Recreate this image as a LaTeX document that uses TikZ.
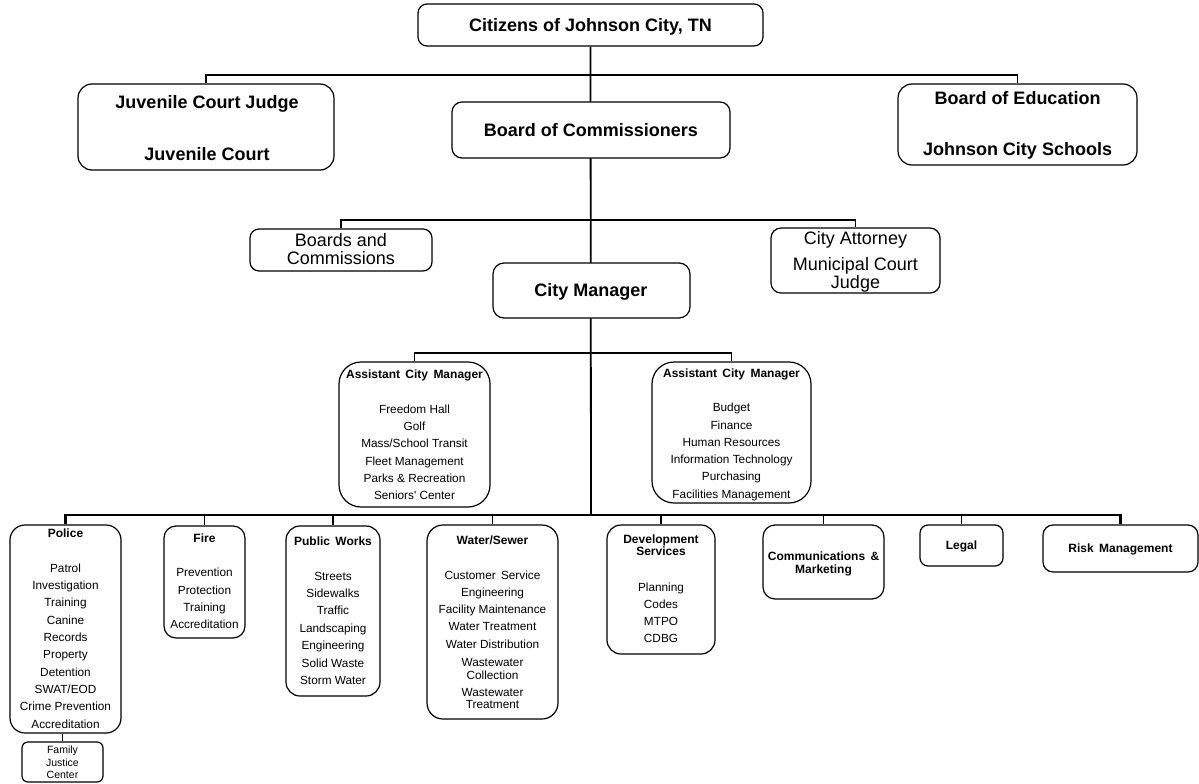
\documentclass[tikz,border=0pt]{standalone}
\usepackage{fontspec}
\setmainfont{Liberation Sans}
\usetikzlibrary{backgrounds}
\tikzset{
  box/.style={draw, line width=1.2pt, fill=white, rounded corners=#1, inner sep=0pt},
  box/.default=12pt,
  conn/.style={line width=1.8pt},
  bus/.style={line width=2.4pt},
  bigb/.style={font=\fontsize{18}{18}\selectfont\bfseries, inner sep=0pt, anchor=base, yshift=-6.2pt},
  bigr/.style={font=\fontsize{18}{18}\selectfont, inner sep=0pt, anchor=base, yshift=-5.8pt},
  ttl/.style={font=\fontsize{12}{12}\selectfont\bfseries, inner sep=0pt, anchor=base, yshift=-4.2pt},
  itm/.style={font=\fontsize{11.8}{11.8}\selectfont, inner sep=0pt, anchor=base, yshift=-4pt},
  tinyt/.style={font=\fontsize{10.5}{10.5}\selectfont, inner sep=0pt, anchor=base, yshift=-3.6pt},
}
\newcommand\mylist[5]{%
  \foreach \t [count=\i] in {#5} {\node[itm] (#1-\i) at (#2, {#3+(\i-1)*#4}) {\t};}}
\begin{document}
\begin{tikzpicture}[x=1pt,y=-1pt]
\useasboundingbox (0,0) rectangle (1199,784);
% ---------- boxes ----------
\node[box=9pt,  minimum width=345pt, minimum height=42pt]  (cit)   at (590.5,25) {};
\node[box=14pt, minimum width=256pt, minimum height=86pt]  (juv)   at (206,127) {};
\node[box=10pt, minimum width=278pt, minimum height=56pt]  (boc)   at (591,130) {};
\node[box=14pt, minimum width=239pt, minimum height=81pt]  (boe)   at (1017.5,124.5) {};
\node[box=9pt,  minimum width=182pt, minimum height=42pt]  (bac)   at (341,250) {};
\node[box=10pt, minimum width=169pt, minimum height=65pt]  (att)   at (855.5,260.5) {};
\node[box=11pt, minimum width=197pt, minimum height=55pt]  (cm)    at (591.5,290.5) {};
\node[box=22pt, minimum width=151pt, minimum height=145pt] (acm1)  at (414.5,434.5) {};
\node[box=22pt, minimum width=159pt, minimum height=141pt] (acm2)  at (731.5,432.5) {};
\node[box=15pt, minimum width=111pt, minimum height=208pt] (pol)   at (65.5,629) {};
\node[box=6pt,  minimum width=81pt,  minimum height=40pt]  (fjc)   at (62.5,762) {};
\node[box=12pt, minimum width=81pt,  minimum height=112pt] (fire)  at (204.5,582) {};
\node[box=14pt, minimum width=94pt,  minimum height=170pt] (pw)    at (333,611) {};
\node[box=16pt, minimum width=131pt, minimum height=194pt] (ws)    at (492.5,622) {};
\node[box=14pt, minimum width=108pt, minimum height=129pt] (dev)   at (661,589.5) {};
\node[box=12pt, minimum width=121pt, minimum height=74pt]  (com)   at (823.5,562) {};
\node[box=8pt,  minimum width=83pt,  minimum height=41pt]  (legal) at (961.5,545.5) {};
\node[box=10pt, minimum width=155pt, minimum height=47pt]  (risk)  at (1120.5,548.5) {};
% ---------- branch points ----------
\coordinate (b1) at (591,75);
\coordinate (b2) at (591,220);
\coordinate (b3) at (591,353);
\coordinate (b4) at (591,515);
% ---------- connectors ----------
\begin{scope}[on background layer]
  \draw[conn] (cit.south) -- (b4);
  \draw[conn] (juv.north) |- (b1) -| (boe.north);
  \draw[conn] (bac.north) |- (b2) -| (att.north);
  \draw[conn] (acm1.north) |- (b3) -| (acm2.north);
  \draw[bus] (pol.north) |- (b4) -| (risk.north);
  \foreach \n in {fire,pw,ws,dev,com,legal}
    \draw[conn] (\n.north) -- (\n.north |- b4);
  \draw[line width=0.8pt] (fjc.north) -- (fjc.north |- pol.south);
\end{scope}
% ---------- texts ----------
\node[bigb] (cit-t)  at (590.5,25) {Citizens of Johnson City, TN};
\node[bigb] (juv-t1) at (207,102.5) {Juvenile Court Judge};
\node[bigb] (juv-t2) at (207,154.5) {Juvenile Court};
\node[bigb] (boc-t)  at (591,130) {Board of Commissioners};
\node[bigb] (boe-t1) at (1017.5,98.5) {Board of Education};
\node[bigb] (boe-t2) at (1017.5,149.5) {Johnson City Schools};
\node[bigr] (bac-t1) at (341,240.5) {Boards and};
\node[bigr] (bac-t2) at (341,258.5) {Commissions};
\node[bigr] (att-t1) at (855.5,238.5) {City Attorney};
\node[bigr] (att-t2) at (855.5,265) {Municipal Court};
\node[bigr] (att-t3) at (855.5,283) {Judge};
\node[bigb] (cm-t)   at (591,290) {City Manager};
% assistant city managers
\node[ttl] (acm1-t) at (414.5,374) {Assistant\ \,City\ \,Manager};
\mylist{acm1}{414.5}{409.3}{17.3}{Freedom Hall,Golf,Mass/School Transit,Fleet Management,Parks \& Recreation,Seniors\textquotesingle{} Center}
\node[ttl] (acm2-t) at (731.5,373.3) {Assistant\ \,City\ \,Manager};
\mylist{acm2}{731.5}{407.7}{17.3}{Budget,Finance,Human Resources,Information Technology,Purchasing,Facilities Management}
% police
\node[ttl] (pol-t) at (65.5,533) {Police};
\mylist{pol}{65.5}{568}{17.36}{Patrol,Investigation,Training,Canine,Records,Property,Detention,SWAT/EOD,Crime Prevention,Accreditation}
\node[tinyt] (fjc-1) at (62.5,750) {Family};
\node[tinyt] (fjc-2) at (62.5,762.5) {Justice};
\node[tinyt] (fjc-3) at (62.5,775) {Center};
% fire
\node[ttl] (fire-t) at (204.5,538.3) {Fire};
\mylist{fire}{204.5}{572.7}{17.4}{Prevention,Protection,Training,Accreditation}
% public works
\node[ttl] (pw-t) at (333,541.7) {Public\ \,Works};
\mylist{pw}{333}{576}{17.4}{Streets,Sidewalks,Traffic,Landscaping,Engineering,Solid Waste,Storm Water}
% water / sewer
\node[ttl] (ws-t) at (492.5,540) {Water/Sewer};
\mylist{ws}{492.5}{575}{17.3}{Customer\ \,Service,Engineering,Facility Maintenance,Water Treatment,Water Distribution}
\node[itm] (ws-6a) at (492.5,662) {Wastewater};
\node[itm] (ws-6b) at (492.5,675) {Collection};
\node[itm] (ws-7a) at (492.5,692) {Wastewater};
\node[itm] (ws-7b) at (492.5,704.5) {Treatment};
% development services
\node[ttl] (dev-t1) at (661,539.3) {Development};
\node[ttl] (dev-t2) at (661,551.7) {Services};
\mylist{dev}{661}{587}{17.3}{Planning,Codes,MTPO,CDBG}
% others
\node[ttl] (com-t1) at (823.5,556.7) {Communications\ \,\&};
\node[ttl] (com-t2) at (823.5,569.3) {Marketing};
\node[ttl] (legal-t) at (961.5,545) {Legal};
\node[ttl] (risk-t) at (1120.5,548.3) {Risk\ \,Management};
\end{tikzpicture}
\end{document}
